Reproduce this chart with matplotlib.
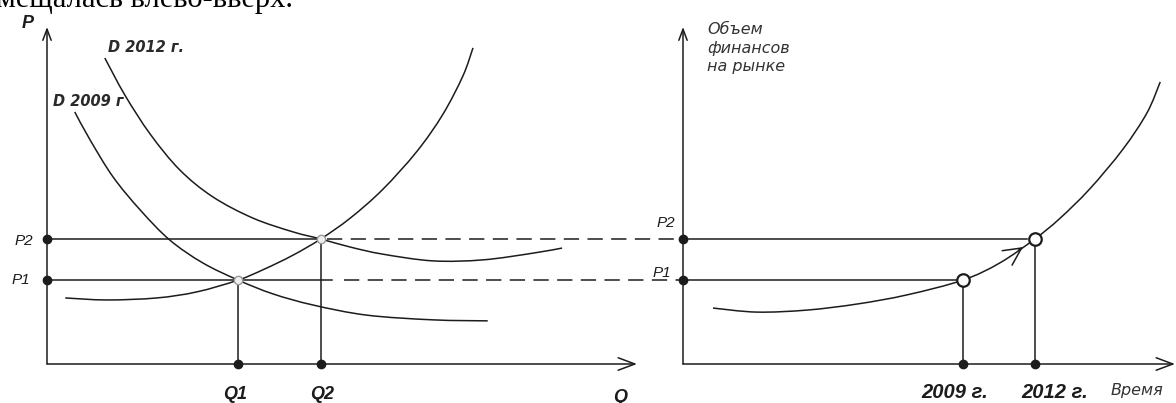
import matplotlib
matplotlib.use("Agg")
import matplotlib.pyplot as plt
from matplotlib.path import Path
from matplotlib.patches import PathPatch

# left panel: market (Q, P), units
Q1, Q2 = 3.24, 4.64
P1, P2 = 2.49, 3.71

supply_q = [0.31, 1.02, 1.86, 2.54, 3.24, 3.69, 4.17, 4.64, 5.14, 5.69, 6.27, 6.71, 7.05, 7.22]
supply_p = [1.96, 1.90, 1.96, 2.14, 2.49, 2.82, 3.23, 3.71, 4.33, 5.18, 6.31, 7.41, 8.55, 9.38]

d2009_q = [0.47, 0.73, 1.12, 1.58, 2.08, 2.64, 3.24, 3.83, 4.51, 5.42, 6.54, 7.47]
d2009_p = [7.48, 6.65, 5.55, 4.57, 3.68, 3.00, 2.49, 2.08, 1.75, 1.45, 1.31, 1.28]

d2012_q = [0.98, 1.32, 1.75, 2.25, 2.81, 3.49, 4.17, 4.64, 5.14, 5.69, 6.54, 7.39, 8.24, 8.73]
d2012_p = [9.08, 7.98, 6.82, 5.76, 4.96, 4.33, 3.92, 3.71, 3.47, 3.26, 3.06, 3.09, 3.29, 3.44]

# right panel: volume of finance over time
T2009, T2012 = 5.69, 7.15
fin_t = [0.61, 1.50, 2.52, 3.54, 4.55, 5.69, 6.44, 7.15, 7.66, 8.27, 8.94, 9.43, 9.70]
fin_v = [1.66, 1.54, 1.60, 1.78, 2.05, 2.49, 3.00, 3.71, 4.32, 5.20, 6.37, 7.45, 8.37]

ink = "#1c1c1c"
lw = 1.1
W, H = 1176, 403

fig = plt.figure(figsize=(11.76, 4.03), dpi=100)
ax1 = fig.add_axes([47 / W, 39 / H, 590 / W, 337 / H])
ax2 = fig.add_axes([683 / W, 39 / H, 492 / W, 337 / H])
for ax in (ax1, ax2):
    ax.set_xlim(0, 10)
    ax.set_ylim(0, 10)
    ax.axis("off")


def curve(ax, xs, ys):
    # smooth bezier path through the read points
    pts = list(zip(xs, ys))
    verts = [pts[0]]
    codes = [Path.MOVETO]
    n = len(pts)
    for i in range(n - 1):
        p0 = pts[i - 1] if i > 0 else pts[i]
        p1, p2 = pts[i], pts[i + 1]
        p3 = pts[i + 2] if i + 2 < n else p2
        c1 = (p1[0] + (p2[0] - p0[0]) / 6, p1[1] + (p2[1] - p0[1]) / 6)
        c2 = (p2[0] - (p3[0] - p1[0]) / 6, p2[1] - (p3[1] - p1[1]) / 6)
        verts += [c1, c2, p2]
        codes += [Path.CURVE4] * 3
    ax.add_patch(PathPatch(Path(verts, codes), fill=False, ec=ink, lw=lw))


def axes_arrows(ax):
    ax.annotate("", xy=(0, 10), xytext=(0, 0),
                arrowprops=dict(arrowstyle="->,head_length=0.8,head_width=0.3",
                                lw=lw, color=ink, shrinkA=0, shrinkB=0),
                annotation_clip=False)
    ax.annotate("", xy=(10, 0), xytext=(0, 0),
                arrowprops=dict(arrowstyle="->,head_length=1.2,head_width=0.45",
                                lw=lw, color=ink, shrinkA=0, shrinkB=0),
                annotation_clip=False)


# ---- left panel
axes_arrows(ax1)
curve(ax1, supply_q, supply_p)
curve(ax1, d2009_q, d2009_p)
curve(ax1, d2012_q, d2012_p)

ax1.plot([0, Q2], [P2, P2], color=ink, lw=lw)
ax1.plot([0, 4.83], [P1, P1], color=ink, lw=lw)
ax1.plot([Q2 + 0.1, 10.78], [P2, P2], color=ink, lw=lw, dashes=(10, 5.5), clip_on=False)
ax1.plot([4.83 + 0.2, 10.78], [P1, P1], color=ink, lw=lw, dashes=(10, 5.5), clip_on=False)
ax1.plot([Q1, Q1], [0, P1], color=ink, lw=lw)
ax1.plot([Q2, Q2], [0, P2], color=ink, lw=lw)

ax1.plot([0, 0, Q1, Q2], [P1, P2, 0, 0], "o", color=ink, ms=6, clip_on=False, zorder=5)
ax1.plot([Q1, Q2], [P1, P2], "o", mfc="#eeeeee", mec="#999999", ms=6, mew=1, zorder=6)

lab = dict(family="Liberation Sans", style="italic", color=ink, ha="center", va="center")
ax1.text(-0.32, 10.09, "P", fontsize=13, weight="bold", **lab)
ax1.text(9.71, -1.0, "Q", fontsize=13, weight="bold", **lab)
ax1.text(3.19, -0.91, "Q1", fontsize=13, weight="bold", **lab)
ax1.text(4.66, -0.91, "Q2", fontsize=13, weight="bold", **lab)
ax1.text(-0.40, 3.65, "P2", fontsize=11, **lab)
ax1.text(-0.44, 2.49, "P1", fontsize=11, **lab)

dlab = dict(family="DejaVu Sans", style="oblique", weight="bold", color="#2a2a2a",
            fontsize=10.5, ha="left", va="center")
ax1.text(1.03, 9.39, "D 2012 г.", **dlab)
ax1.text(0.10, 7.80, "D 2009 г", **dlab)

# ---- right panel
axes_arrows(ax2)
curve(ax2, fin_t, fin_v)
ax2.plot([0, T2012 - 0.15], [P2, P2], color=ink, lw=lw)
ax2.plot([0, T2009 - 0.1], [P1, P1], color=ink, lw=lw)
ax2.plot([T2009, T2009], [0, P1], color=ink, lw=lw)
ax2.plot([T2012, T2012], [0, P2], color=ink, lw=lw)
ax2.plot([0, 0, T2009, T2012], [P1, P2, 0, 0], "o", color=ink, ms=6, clip_on=False, zorder=5)
ax2.plot([T2009, T2012], [P1, P2], "o", mfc="white", mec=ink, ms=9, mew=1.6, zorder=6)

# arrow head on the curve between 2009 and 2012
ax2.annotate("", xy=(6.91, 3.47), xytext=(6.82, 3.38),
             arrowprops=dict(arrowstyle="->,head_length=0.9,head_width=0.45",
                             mutation_scale=14, lw=lw, color=ink, shrinkA=0, shrinkB=0))

ax2.text(-0.35, 4.18, "P2", fontsize=11, **lab)
ax2.text(-0.43, 2.70, "P1", fontsize=11, **lab)
ax2.text(5.53, -0.86, "2009 г.", fontsize=14.5, weight="bold", **lab)
ax2.text(7.56, -0.86, "2012 г.", fontsize=14.5, weight="bold", **lab)
ax2.text(9.23, -0.80, "Время", family="DejaVu Sans", style="oblique", fontsize=11.5,
         color="#333333", ha="center", va="center")
ax2.text(0.49, 10.15, "Объем\nфинансов\nна рынке", family="DejaVu Sans", style="oblique",
         fontsize=11.5, color="#333333", ha="left", va="top", linespacing=1.3)

# cut-off line of text from the page above the figure
fig.text(293 / W, 1 - 7 / H, "смещалась влево-вверх.", family="Liberation Serif",
         fontsize=22, color="black", ha="right", va="baseline")

fig.savefig("out.png", dpi=100)
